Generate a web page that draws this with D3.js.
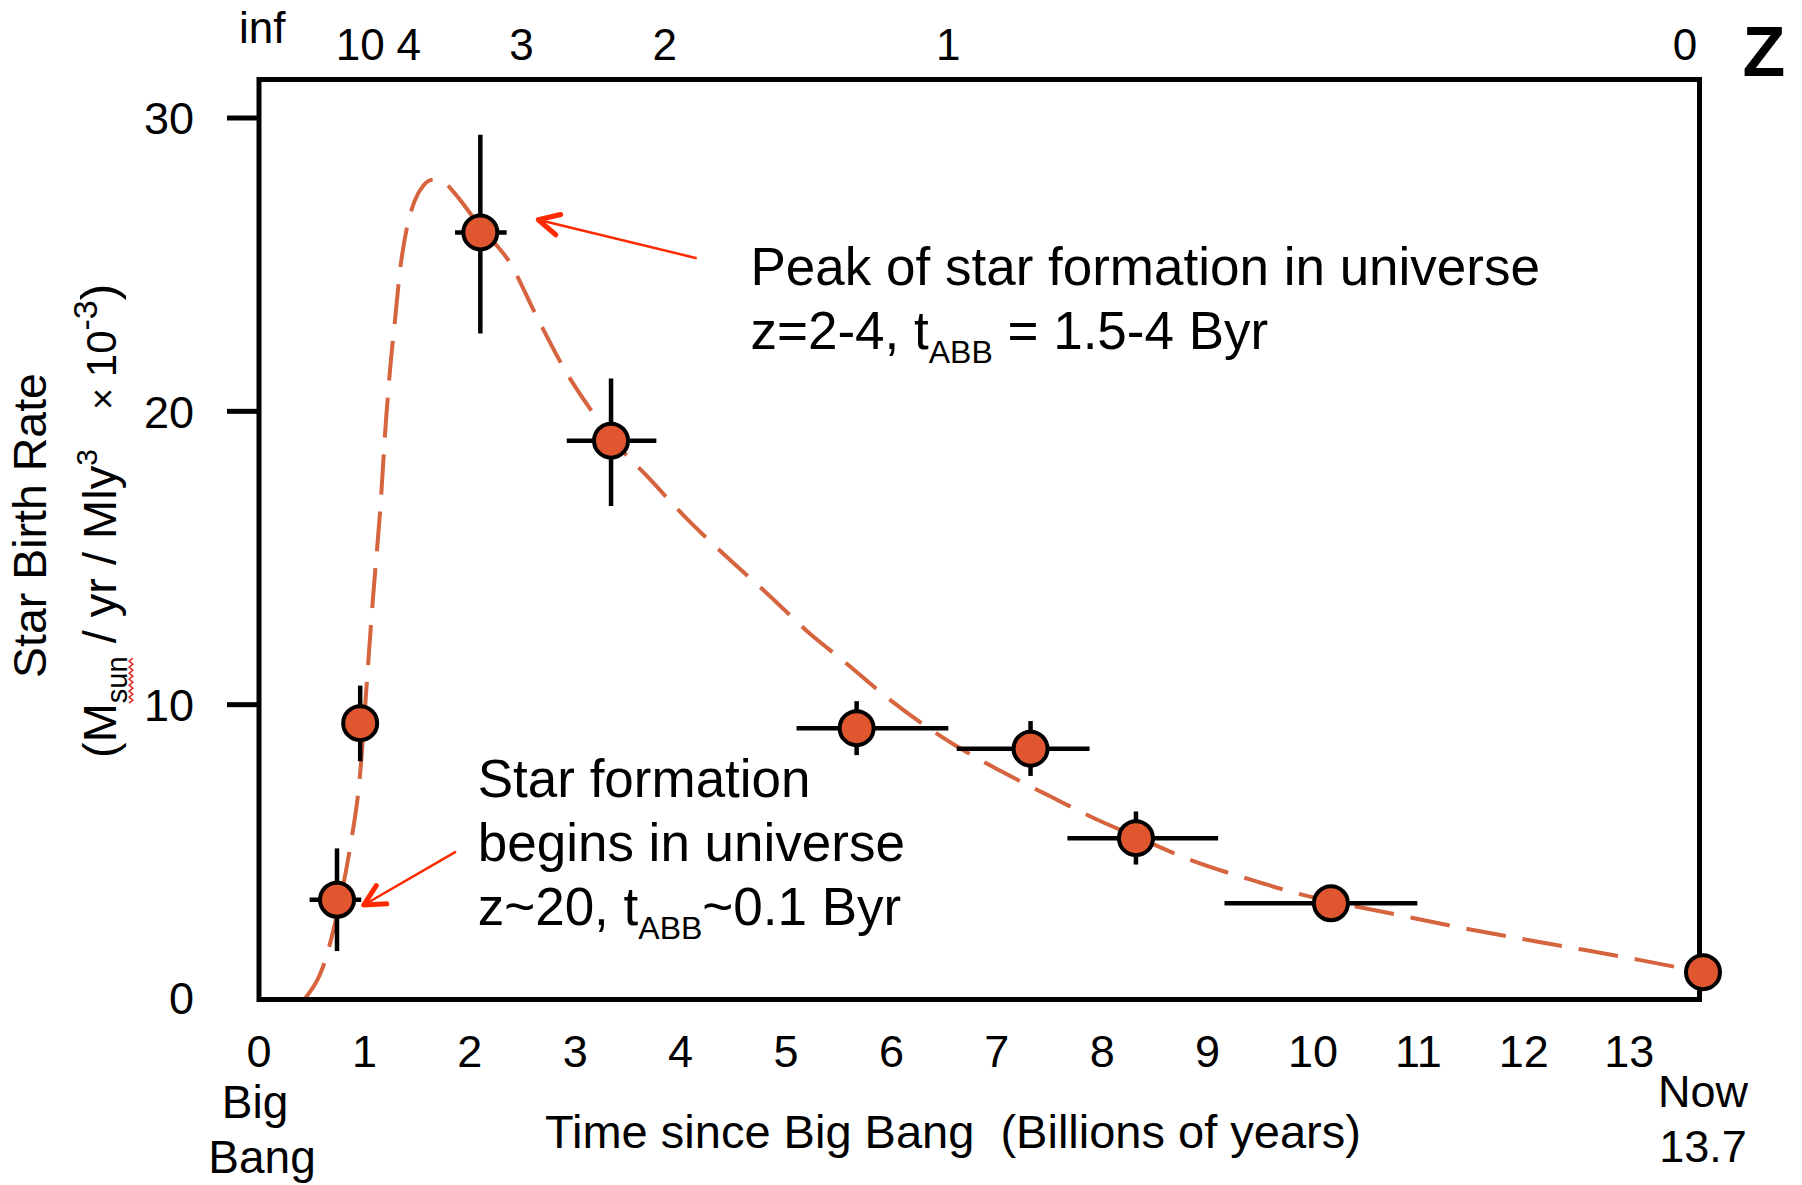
<!DOCTYPE html>
<html>
<head>
<meta charset="utf-8">
<script src="https://cdn.jsdelivr.net/npm/d3@7"></script>
<style>
  html, body { margin: 0; padding: 0; background: #fff; }
  svg { display: block; font-family: "Liberation Sans", Arial, Helvetica, sans-serif; }
  text { white-space: pre; }
</style>
</head>
<body>
<svg id="chart" width="1802" height="1185"></svg>
<script>
// Star birth rate measurements: time since Big Bang (Gyr) and rate (Msun / yr / Mly^3, x1e-3)
const times    = [0.74, 0.96, 2.10, 3.34, 5.67, 7.32, 8.32, 10.17, 13.7];
const rates    = [3.35, 9.37, 26.1, 19.0, 9.2, 8.5, 5.45, 3.23, 0.88];
const rateLow  = [1.6, 8.07, 22.65, 16.77, 8.28, 7.57, 4.55, null, null];
const rateHigh = [5.1, 10.65, 29.43, 21.12, 10.12, 9.44, 6.36, null, null];
const timeLow  = [0.48, null, 1.86, 2.92, 5.10, 6.62, 7.67, 9.16, null];
const timeHigh = [0.97, null, 2.35, 3.77, 6.54, 7.88, 9.10, 10.99, null];

// Model star formation history (dashed curve)
const curveTimes = [0.44, 0.62, 0.77, 0.86, 0.96, 1.02, 1.08, 1.15, 1.205, 1.243, 1.29, 1.338,
  1.40, 1.48, 1.56, 1.654, 1.76, 1.843, 2.097, 2.381, 2.635, 2.92, 3.172, 3.359, 3.671, 4.07,
  4.434, 4.833, 5.233, 5.56, 5.922, 6.286, 6.612, 7.047, 7.52, 7.97, 8.319, 8.805, 9.393,
  9.867, 10.73, 11.518, 12.306, 13.093, 13.482, 13.7];
const curveRates = [0, 1.2, 3.34, 5.05, 7.67, 10.61, 13.57, 16.64, 19.7, 21.4, 23.1, 24.8,
  26.2, 27.2, 27.7, 27.9, 27.8, 27.49, 26.3, 25.06, 23.23, 21.3, 19.93, 19.02, 17.83, 16.3,
  15.05, 13.75, 12.4, 11.45, 10.35, 9.37, 8.6, 7.72, 6.85, 6.05, 5.51, 4.75, 4.05,
  3.55, 2.89, 2.32, 1.81, 1.3, 1.03, 0.88];

// Axis ticks
const timeTicks = [0, 1, 2, 3, 4, 5, 6, 7, 8, 9, 10, 11, 12, 13];
const rateTicks = [0, 10, 20, 30];
const rateTickMarks = [10, 20, 30];

// Redshift labels along the top and the times they sit at
const redshiftLabels = ["inf", "10", "4", "3", "2", "1", "0"];
const redshiftTimes  = [0.03, 0.96, 1.42, 2.49, 3.85, 6.54, 13.53];

const svg = d3.select("#chart");

const frame = { left: 259, right: 1699.5, top: 79.5, bottom: 999.5 };
const x = d3.scaleLinear().domain([0, 13.7]).range([259, 1703]);
const y = d3.scaleLinear().domain([0, 30]).range([998, 118]);

const MARK_FILL = "#e0562e";
const CURVE = "#d6643f";
const ARROW = "#ff2a00";

// Model curve
const line = d3.line()
  .x(d => x(d[0]))
  .y(d => y(d[1]))
  .curve(d3.curveMonotoneX);

svg.append("defs").append("clipPath").attr("id", "plotClip")
  .append("rect")
  .attr("x", frame.left).attr("y", frame.top)
  .attr("width", frame.right - frame.left + 4)
  .attr("height", frame.bottom - frame.top);

svg.append("path")
  .datum(d3.zip(curveTimes, curveRates))
  .attr("d", line)
  .attr("clip-path", "url(#plotClip)")
  .attr("fill", "none")
  .attr("stroke", CURVE)
  .attr("stroke-width", 4)
  .attr("stroke-dasharray", "40,17");

// Plot frame
svg.append("rect")
  .attr("x", frame.left).attr("y", frame.top)
  .attr("width", frame.right - frame.left)
  .attr("height", frame.bottom - frame.top)
  .attr("fill", "none")
  .attr("stroke", "#000")
  .attr("stroke-width", 5);

// Y axis ticks and labels
svg.append("g").selectAll("line")
  .data(rateTickMarks).join("line")
  .attr("x1", frame.left - 32).attr("x2", frame.left)
  .attr("y1", d => y(d)).attr("y2", d => y(d))
  .attr("stroke", "#000").attr("stroke-width", 5);

svg.append("g").selectAll("text")
  .data(rateTicks).join("text")
  .attr("x", 194)
  .attr("y", d => y(d))
  .attr("dy", "0.36em")
  .attr("text-anchor", "end")
  .attr("font-size", 45)
  .text(d => d);

// X axis labels (no tick marks)
svg.append("g").selectAll("text")
  .data(timeTicks).join("text")
  .attr("x", d => x(d))
  .attr("y", 1067)
  .attr("text-anchor", "middle")
  .attr("font-size", 45)
  .text(d => d);

svg.append("text").attr("x", 255).attr("y", 1118)
  .attr("text-anchor", "middle").attr("font-size", 46).text("Big");
svg.append("text").attr("x", 262).attr("y", 1173)
  .attr("text-anchor", "middle").attr("font-size", 46).text("Bang");
svg.append("text").attr("x", x(13.7)).attr("y", 1107)
  .attr("text-anchor", "middle").attr("font-size", 45).text("Now");
svg.append("text").attr("x", x(13.7)).attr("y", 1162)
  .attr("text-anchor", "middle").attr("font-size", 45).text("13.7");

svg.append("text")
  .attr("x", 953).attr("y", 1148)
  .attr("text-anchor", "middle")
  .attr("font-size", 47)
  .text("Time since Big Bang  (Billions of years)");

// Redshift scale along the top
svg.append("g").selectAll("text")
  .data(d3.zip(redshiftLabels, redshiftTimes)).join("text")
  .attr("x", d => x(d[1]))
  .attr("y", d => d[0] === "inf" ? 43 : 60)
  .attr("text-anchor", "middle")
  .attr("font-size", 44)
  .text(d => d[0]);

svg.append("text")
  .attr("x", 1764).attr("y", 76)
  .attr("text-anchor", "middle")
  .attr("font-size", 70)
  .attr("font-weight", "bold")
  .text("Z");

// Y axis title (two rotated lines)
const yTitle = svg.append("g").attr("transform", "translate(46,678) rotate(-90)");
yTitle.append("text")
  .attr("text-anchor", "start")
  .attr("font-size", 46.5)
  .text("Star Birth Rate");

const yTitle2 = svg.append("g").attr("transform", "translate(116,758) rotate(-90)");
const unitText = yTitle2.append("text")
  .attr("text-anchor", "start")
  .attr("font-size", 47);
unitText.append("tspan").text("(M");
unitText.append("tspan").attr("font-size", 29).attr("dy", 11).text("sun");
unitText.append("tspan").attr("dy", -11).text(" / yr / Mly");
unitText.append("tspan").attr("font-size", 30).attr("dy", -19).text("3");
unitText.append("tspan").attr("dy", 19).text("   ");
unitText.append("tspan").attr("font-size", 38).text("× ");
unitText.append("tspan").attr("font-size", 42).text("10");
unitText.append("tspan").attr("font-size", 34).attr("dy", -19).text("-3");
unitText.append("tspan").attr("dy", 19).attr("font-size", 50).text(")");

// Spell-check style wavy underline beneath "sun"
(function () {
  const node = unitText.node();
  const start = node.getSubStringLength(0, 2);
  const len = node.getSubStringLength(2, 3);
  const pts = [];
  const step = 3;
  for (let i = 0; i * step <= len; i++) {
    pts.push([start + i * step, 15 + (i % 2 === 0 ? -1.8 : 1.8)]);
  }
  yTitle2.append("path")
    .attr("d", d3.line()(pts))
    .attr("fill", "none")
    .attr("stroke", "#e0302a")
    .attr("stroke-width", 1.6);
})();

// Error bars
const points = times.map((t, i) => ({
  t, r: rates[i],
  rLo: rateLow[i], rHi: rateHigh[i],
  tLo: timeLow[i], tHi: timeHigh[i]
}));

const bars = svg.append("g").attr("stroke", "#000").attr("stroke-width", 4.5);
bars.selectAll("line.v")
  .data(points.filter(p => p.rLo !== null)).join("line")
  .attr("class", "v")
  .attr("x1", d => x(d.t)).attr("x2", d => x(d.t))
  .attr("y1", d => y(d.rLo)).attr("y2", d => y(d.rHi));
bars.selectAll("line.h")
  .data(points.filter(p => p.tLo !== null)).join("line")
  .attr("class", "h")
  .attr("x1", d => x(d.tLo)).attr("x2", d => x(d.tHi))
  .attr("y1", d => y(d.r)).attr("y2", d => y(d.r));

// Data markers
svg.append("g").selectAll("circle")
  .data(points).join("circle")
  .attr("cx", d => x(d.t))
  .attr("cy", d => y(d.r))
  .attr("r", 17)
  .attr("fill", MARK_FILL)
  .attr("stroke", "#000")
  .attr("stroke-width", 4);

// Annotations with arrows
function arrow(tail, tip) {
  const x0 = x(tail[0]), y0 = y(tail[1]);
  const x1 = x(tip[0]), y1 = y(tip[1]);
  const ang = Math.atan2(y0 - y1, x0 - x1);
  const head = 23, spread = 27 * Math.PI / 180;
  svg.append("line")
    .attr("x1", x0).attr("y1", y0).attr("x2", x1 + 2 * Math.cos(ang)).attr("y2", y1 + 2 * Math.sin(ang))
    .attr("stroke", ARROW).attr("stroke-width", 2.5);
  const a = [x1 + head * Math.cos(ang - spread), y1 + head * Math.sin(ang - spread)];
  const b = [x1 + head * Math.cos(ang + spread), y1 + head * Math.sin(ang + spread)];
  svg.append("path")
    .attr("d", `M${a[0]},${a[1]}L${x1},${y1}L${b[0]},${b[1]}`)
    .attr("fill", "none")
    .attr("stroke", ARROW)
    .attr("stroke-width", 5)
    .attr("stroke-linecap", "round")
    .attr("stroke-linejoin", "round");
}

arrow([4.153, 25.22], [2.65, 26.53]);
arrow([1.869, 4.99], [0.994, 3.17]);

function note(t, r, lines) {
  const g = svg.append("g").attr("font-size", 53);
  lines.forEach((parts, i) => {
    const tx = g.append("text").attr("x", x(t)).attr("y", y(r) + i * 64);
    let shift = 0;
    parts.forEach(p => {
      if (typeof p === "string") {
        tx.append("tspan").attr("dy", -shift).text(p);
        shift = 0;
      } else {
        tx.append("tspan").attr("font-size", 32).attr("dy", 14).text(p.sub);
        shift = 14;
      }
    });
  });
}

note(4.663, 24.31, [
  ["Peak of star formation in universe"],
  ["z=2-4, t", { sub: "ABB" }, " = 1.5-4 Byr"]
]);

note(2.075, 6.86, [
  ["Star formation"],
  ["begins in universe"],
  ["z~20, t", { sub: "ABB" }, "~0.1 Byr"]
]);
</script>
</body>
</html>
